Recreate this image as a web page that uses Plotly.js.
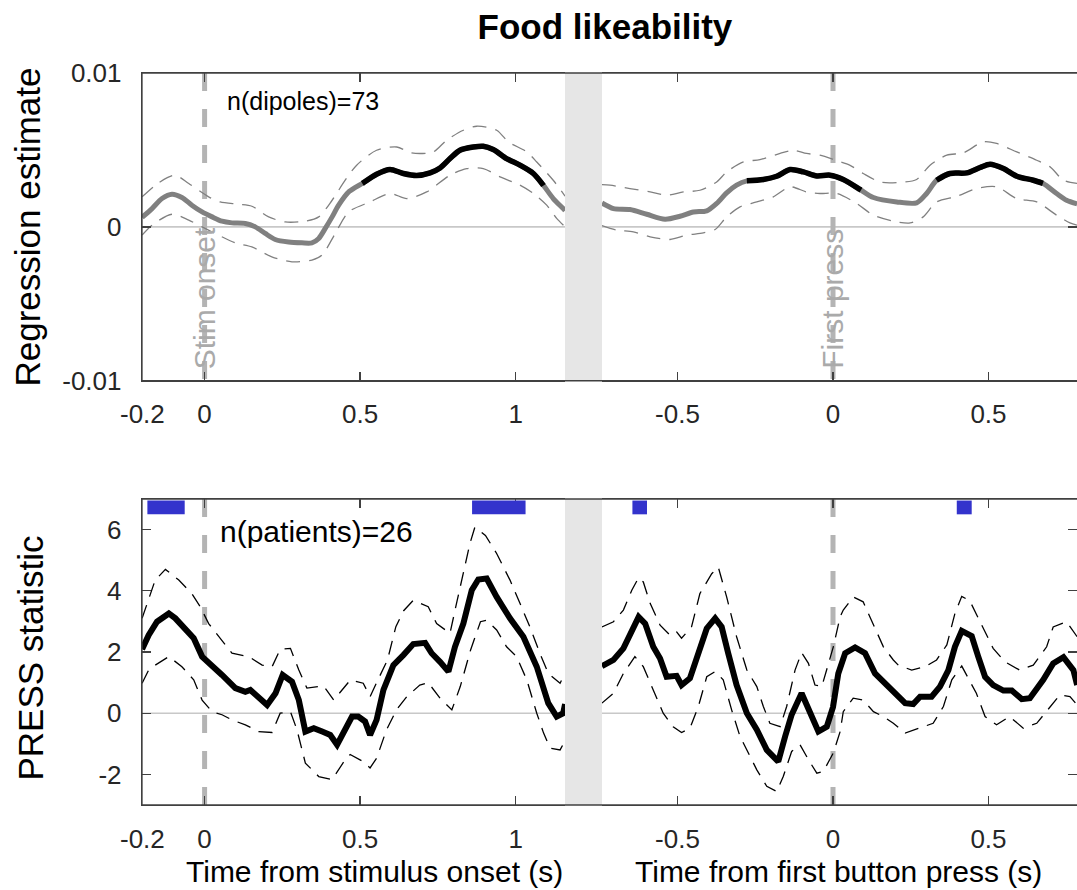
<!DOCTYPE html>
<html><head><meta charset="utf-8">
<script src="https://cdn.plot.ly/plotly-3.0.1.min.js"></script>
<style>html,body{margin:0;padding:0;background:#fff;} #chart{width:1077px;height:890px;}</style>
</head><body><div id="chart"></div>
<script>
// ---------- DATA ----------
// Tick labels
const stimTickVals = [-0.2, 0, 0.5, 1];
const stimTickText = ['-0.2', '0', '0.5', '1'];
const respTickVals = [-0.5, 0, 0.5];
const respTickText = ['-0.5', '0', '0.5'];
const regTickVals = [-0.01, 0, 0.01];
const regTickText = ['-0.01', '0', '0.01'];
const pressTickVals = [-2, 0, 2, 4, 6];
const pressTickText = ['-2', '0', '2', '4', '6'];

// Regression estimate, stimulus-locked (s)
const regStimT = [-0.201,-0.169,-0.137,-0.105,-0.073,-0.041,-0.008,0.024,0.056,0.088,0.131,0.163,0.195,0.227,0.270,0.313,0.345,0.367,0.388,0.410,0.431,0.465,0.510,0.553,0.596,0.639,0.682,0.725,0.757,0.789,0.821,0.864,0.896,0.928,0.971,1.014,1.057,1.089,1.121,1.153,1.159];
const regStimMean = [0.62e-3,1.19e-3,1.84e-3,2.12e-3,1.91e-3,1.41e-3,0.97e-3,0.65e-3,0.37e-3,0.26e-3,0.22e-3,0.0,-0.43e-3,-0.82e-3,-0.99e-3,-1.04e-3,-1.04e-3,-0.75e-3,-0.10e-3,0.65e-3,1.41e-3,2.30e-3,2.86e-3,3.42e-3,3.73e-3,3.47e-3,3.34e-3,3.51e-3,3.83e-3,4.44e-3,4.98e-3,5.19e-3,5.24e-3,5.03e-3,4.44e-3,4.01e-3,3.47e-3,2.71e-3,1.84e-3,1.19e-3,1.05e-3];
const regStimUpT = [-0.201,-0.158,-0.120,-0.094,-0.051,0.013,0.050,0.110,0.152,0.206,0.259,0.324,0.367,0.410,0.452,0.489,0.553,0.618,0.665,0.735,0.778,0.832,0.875,0.939,0.977,1.036,1.068,1.121,1.159];
const regStimUp = [1.95e-3,2.71e-3,3.20e-3,3.36e-3,2.82e-3,1.95e-3,1.62e-3,1.47e-3,1.34e-3,0.65e-3,0.32e-3,0.37e-3,0.65e-3,1.73e-3,3.03e-3,4.01e-3,4.98e-3,5.19e-3,4.81e-3,4.87e-3,5.63e-3,6.28e-3,6.54e-3,6.28e-3,5.52e-3,4.87e-3,4.22e-3,3.03e-3,2.00e-3];
const regStimLoT = [-0.201,-0.169,-0.105,-0.051,-0.008,0.034,0.099,0.152,0.216,0.281,0.345,0.377,0.420,0.463,0.532,0.596,0.650,0.714,0.789,0.843,0.896,0.950,1.014,1.057,1.100,1.132,1.159];
const regStimLo = [-0.54e-3,0.11e-3,0.82e-3,0.44e-3,0.0,-0.43e-3,-1.04e-3,-1.30e-3,-1.95e-3,-2.27e-3,-2.16e-3,-1.84e-3,-0.43e-3,0.97e-3,1.62e-3,2.17e-3,1.84e-3,2.27e-3,3.36e-3,3.79e-3,3.79e-3,3.25e-3,2.71e-3,2.17e-3,1.41e-3,0.55e-3,0.0];
const regSigStimStart = [0.507];
const regSigStimEnd = [1.090];

// Regression estimate, response-locked (s)
const regRespT = [-0.743,-0.706,-0.653,-0.599,-0.540,-0.492,-0.449,-0.406,-0.374,-0.342,-0.310,-0.277,-0.224,-0.181,-0.138,-0.095,-0.052,-0.010,0.033,0.087,0.130,0.205,0.269,0.301,0.333,0.376,0.430,0.473,0.505,0.548,0.591,0.644,0.676,0.719,0.751,0.785];
const regRespMean = [1.55e-3,1.19e-3,1.13e-3,0.82e-3,0.50e-3,0.69e-3,0.97e-3,1.04e-3,1.52e-3,2.21e-3,2.71e-3,2.99e-3,3.08e-3,3.29e-3,3.73e-3,3.57e-3,3.31e-3,3.36e-3,3.08e-3,2.43e-3,1.91e-3,1.62e-3,1.56e-3,2.17e-3,3.03e-3,3.47e-3,3.51e-3,3.86e-3,4.07e-3,3.79e-3,3.29e-3,3.03e-3,2.82e-3,2.17e-3,1.73e-3,1.50e-3];
const regRespUpT = [-0.743,-0.717,-0.653,-0.588,-0.535,-0.481,-0.428,-0.374,-0.342,-0.288,-0.235,-0.170,-0.128,-0.085,-0.042,0.012,0.055,0.097,0.151,0.205,0.269,0.312,0.366,0.419,0.483,0.526,0.591,0.655,0.698,0.741,0.785];
const regRespUp = [2.75e-3,2.71e-3,2.49e-3,2.27e-3,2.06e-3,2.27e-3,2.38e-3,2.92e-3,3.57e-3,4.22e-3,4.37e-3,4.77e-3,4.98e-3,4.77e-3,4.66e-3,4.30e-3,4.00e-3,3.47e-3,2.92e-3,2.88e-3,3.08e-3,4.01e-3,4.66e-3,4.81e-3,5.52e-3,5.42e-3,4.87e-3,4.33e-3,3.90e-3,3.03e-3,2.82e-3];
const regRespLoT = [-0.743,-0.696,-0.642,-0.588,-0.524,-0.470,-0.417,-0.379,-0.342,-0.299,-0.245,-0.192,-0.138,-0.085,-0.042,0.012,0.076,0.130,0.194,0.248,0.290,0.333,0.398,0.462,0.526,0.591,0.655,0.719,0.762,0.785];
const regRespLo = [0.08e-3,-0.21e-3,-0.32e-3,-0.65e-3,-0.82e-3,-0.54e-3,-0.39e-3,-0.17e-3,0.65e-3,1.30e-3,1.62e-3,1.95e-3,2.60e-3,2.27e-3,2.17e-3,2.17e-3,1.52e-3,0.76e-3,0.37e-3,0.26e-3,0.65e-3,1.62e-3,1.99e-3,2.49e-3,2.60e-3,1.84e-3,1.62e-3,0.76e-3,0.26e-3,0.11e-3];
const regSigRespStart = [-0.277, 0.333];
const regSigRespEnd = [0.090, 0.675];

// PRESS statistic, stimulus-locked
const pressStimT = [-0.201,-0.180,-0.153,-0.115,-0.094,-0.062,-0.035,-0.008,0.024,0.056,0.099,0.131,0.147,0.174,0.201,0.228,0.251,0.281,0.303,0.324,0.351,0.378,0.404,0.426,0.452,0.474,0.494,0.516,0.532,0.553,0.575,0.607,0.639,0.671,0.709,0.730,0.757,0.784,0.805,0.832,0.859,0.880,0.907,0.939,0.982,1.025,1.068,1.105,1.132,1.153,1.159];
const pressStimMean = [2.09,2.55,2.99,3.26,3.10,2.77,2.45,1.85,1.52,1.25,0.82,0.70,0.76,0.54,0.27,0.65,1.25,1.03,0.43,-0.60,-0.49,-0.60,-0.71,-1.03,-0.54,-0.11,-0.11,-0.27,-0.71,-0.22,0.76,1.57,1.90,2.26,2.30,1.96,1.68,1.36,2.17,2.93,4.02,4.37,4.40,3.80,3.10,2.50,1.52,0.33,-0.11,0.00,0.30];
const pressStimUpT = [-0.201,-0.180,-0.159,-0.126,-0.083,-0.041,-0.014,0.013,0.045,0.088,0.142,0.185,0.217,0.243,0.276,0.303,0.329,0.383,0.415,0.442,0.469,0.510,0.532,0.553,0.588,0.615,0.640,0.671,0.719,0.746,0.789,0.810,0.832,0.853,0.869,0.903,0.939,0.982,1.014,1.046,1.078,1.105,1.143,1.159];
const pressStimUp = [3.10,3.75,4.35,4.70,4.35,3.91,3.48,2.93,2.50,1.96,1.85,1.57,1.52,2.09,2.12,1.41,0.82,0.89,0.43,0.76,1.09,0.98,0.54,1.00,1.74,2.83,3.35,3.69,3.48,2.93,2.61,3.59,4.56,5.54,6.08,5.81,5.22,4.35,3.59,2.82,1.96,1.30,0.98,1.30];
const pressStimLoT = [-0.201,-0.180,-0.159,-0.115,-0.073,-0.035,-0.008,0.024,0.056,0.088,0.131,0.174,0.217,0.243,0.276,0.297,0.324,0.367,0.410,0.452,0.468,0.510,0.532,0.553,0.585,0.617,0.650,0.692,0.719,0.757,0.795,0.822,0.855,0.887,0.907,0.939,0.971,1.003,1.036,1.068,1.090,1.111,1.143,1.159];
const pressStimLo = [0.98,1.41,1.57,1.85,1.52,1.09,0.43,0.05,-0.05,-0.22,-0.38,-0.60,-0.63,0.00,0.05,-0.54,-1.63,-2.07,-2.17,-1.52,-1.35,-1.58,-1.79,-1.47,-0.54,0.11,0.54,0.92,1.00,0.49,0.11,0.87,2.06,2.99,3.04,2.72,2.17,1.85,1.09,0.00,-0.65,-1.14,-1.20,-0.90];
const pressSigStimStart = [-0.184, 0.860];
const pressSigStimEnd = [-0.064, 1.032];

// PRESS statistic, response-locked
const pressRespT = [-0.743,-0.706,-0.674,-0.647,-0.625,-0.604,-0.578,-0.556,-0.535,-0.503,-0.487,-0.460,-0.438,-0.406,-0.379,-0.358,-0.337,-0.310,-0.277,-0.245,-0.213,-0.176,-0.154,-0.133,-0.101,-0.074,-0.047,-0.020,0.000,0.017,0.039,0.071,0.103,0.135,0.167,0.205,0.232,0.258,0.280,0.317,0.344,0.371,0.392,0.414,0.446,0.467,0.489,0.515,0.548,0.575,0.607,0.633,0.676,0.708,0.741,0.773,0.785];
const pressRespMean = [1.54,1.74,2.12,2.66,3.15,2.93,2.17,1.79,1.19,1.22,0.92,1.14,1.85,2.77,3.10,2.82,1.96,0.92,0.00,-0.54,-1.20,-1.58,-0.76,-0.05,0.65,0.00,-0.60,-0.44,0.20,1.30,1.96,2.15,1.96,1.30,0.98,0.60,0.33,0.30,0.54,0.54,0.87,1.41,2.17,2.69,2.52,1.85,1.19,0.92,0.74,0.74,0.46,0.49,1.09,1.63,1.83,1.41,0.92];
const pressRespUpT = [-0.743,-0.706,-0.674,-0.647,-0.625,-0.610,-0.588,-0.556,-0.524,-0.503,-0.487,-0.455,-0.428,-0.390,-0.369,-0.342,-0.310,-0.277,-0.245,-0.224,-0.203,-0.170,-0.149,-0.122,-0.101,-0.079,-0.058,-0.036,0.001,0.023,0.033,0.065,0.097,0.130,0.162,0.194,0.210,0.253,0.296,0.333,0.366,0.392,0.414,0.440,0.473,0.515,0.553,0.600,0.644,0.687,0.708,0.751,0.785];
const pressRespUp = [2.82,2.99,3.37,4.02,4.43,4.29,3.59,2.88,2.55,2.66,2.45,2.82,3.91,4.56,4.78,3.80,2.50,1.41,0.87,0.22,-0.33,-0.44,0.22,1.41,1.98,1.63,0.92,0.87,2.17,3.15,3.37,3.80,3.64,2.88,2.17,1.74,1.57,1.41,1.52,1.74,2.23,3.26,3.82,3.67,2.99,2.12,1.68,1.41,1.57,2.17,2.82,2.99,2.50];
const pressRespLoT = [-0.743,-0.706,-0.674,-0.637,-0.610,-0.578,-0.546,-0.514,-0.487,-0.460,-0.433,-0.406,-0.379,-0.353,-0.326,-0.299,-0.272,-0.245,-0.213,-0.181,-0.160,-0.133,-0.106,-0.079,-0.052,-0.031,0.001,0.023,0.033,0.065,0.097,0.130,0.162,0.194,0.232,0.274,0.322,0.355,0.382,0.414,0.461,0.489,0.526,0.568,0.612,0.655,0.698,0.730,0.762,0.785];
const pressRespLo = [0.33,0.65,1.30,1.85,1.52,0.76,0.00,-0.44,-0.63,-0.49,0.22,1.19,1.36,1.09,0.11,-0.76,-1.30,-1.85,-2.39,-2.56,-2.07,-1.25,-1.03,-1.52,-1.96,-1.90,-1.30,-0.60,0.05,0.49,0.43,0.05,-0.11,-0.33,-0.65,-0.49,-0.33,0.22,1.09,1.54,0.65,-0.11,-0.38,-0.11,-0.49,-0.33,0.22,0.60,0.54,0.27];
const pressSigRespStart = [-0.645, 0.398];
const pressSigRespEnd = [-0.598, 0.446];

// ---------- STYLE / LAYOUT ----------
const FONT = '"Liberation Sans", Arial, Helvetica, sans-serif';
const GRAY = '#808080';
const AXC = '#404040';
const CI_DASH = '14px,9px';
const MARK_DASH = '18px,18px';
const MARK_COLOR = '#b4b4b4';

// plot area geometry (paper fractions)
const X1_DOM = [0, 0.4524];
const X2_DOM = [0.49198, 1];
const TOP_DOM = [0.5796, 1];
const BOT_DOM = [0, 0.418];
const STIM_RANGE = [-0.2013, 1.1588];
const RESP_RANGE = [-0.7428, 0.7846];

function interp(t, v, x) {
  for (let i = 0; i < t.length - 1; i++) {
    if (x >= t[i] && x <= t[i + 1]) {
      const f = (x - t[i]) / (t[i + 1] - t[i]);
      return v[i] + f * (v[i + 1] - v[i]);
    }
  }
  return x < t[0] ? v[0] : v[v.length - 1];
}
function sigPath(t, v, starts, ends) {
  const xs = [], ys = [];
  starts.forEach((a, k) => {
    const b = ends[k];
    xs.push(a); ys.push(interp(t, v, a));
    t.forEach((ti, i) => { if (ti > a && ti < b) { xs.push(ti); ys.push(v[i]); } });
    xs.push(b); ys.push(interp(t, v, b));
    xs.push(null); ys.push(null);
  });
  return {xs, ys};
}
function ln(x, y, xa, ya, color, width, dash, shape) {
  return {type: 'scatter', mode: 'lines', x: x, y: y, xaxis: xa, yaxis: ya,
    line: {color: color, width: width, dash: dash || 'solid', shape: shape || 'linear', smoothing: 0.8},
    connectgaps: false, hoverinfo: 'skip', showlegend: false};
}

const sigA = sigPath(regStimT, regStimMean, regSigStimStart, regSigStimEnd);
const sigB = sigPath(regRespT, regRespMean, regSigRespStart, regSigRespEnd);

const traces = [
  ln(regStimUpT, regStimUp, 'x', 'y', GRAY, 1.3, CI_DASH, 'spline'),
  ln(regStimLoT, regStimLo, 'x', 'y', GRAY, 1.3, CI_DASH, 'spline'),
  ln(regStimT, regStimMean, 'x', 'y', GRAY, 5, null, 'spline'),
  ln(sigA.xs, sigA.ys, 'x', 'y', '#000', 5.5, null, 'spline'),
  ln(regRespUpT, regRespUp, 'x2', 'y', GRAY, 1.3, CI_DASH, 'spline'),
  ln(regRespLoT, regRespLo, 'x2', 'y', GRAY, 1.3, CI_DASH, 'spline'),
  ln(regRespT, regRespMean, 'x2', 'y', GRAY, 5, null, 'spline'),
  ln(sigB.xs, sigB.ys, 'x2', 'y', '#000', 5.5, null, 'spline'),
  ln(pressStimUpT, pressStimUp, 'x3', 'y2', '#000', 1.3, CI_DASH),
  ln(pressStimLoT, pressStimLo, 'x3', 'y2', '#000', 1.3, CI_DASH),
  ln(pressStimT, pressStimMean, 'x3', 'y2', '#000', 6),
  ln(pressRespUpT, pressRespUp, 'x4', 'y2', '#000', 1.3, CI_DASH),
  ln(pressRespLoT, pressRespLo, 'x4', 'y2', '#000', 1.3, CI_DASH),
  ln(pressRespT, pressRespMean, 'x4', 'y2', '#000', 6),
  {type: 'scatter', mode: 'lines', x: [0], y: [null], xaxis: 'x2', yaxis: 'y3', hoverinfo: 'skip', showlegend: false},
  {type: 'scatter', mode: 'lines', x: [0], y: [null], xaxis: 'x4', yaxis: 'y4', hoverinfo: 'skip', showlegend: false}
];

const axBase = {
  ticks: 'inside', ticklen: 9, tickwidth: 1.3, tickcolor: AXC,
  showline: true, linecolor: AXC, linewidth: 1.3,
  showgrid: false, zeroline: false, fixedrange: true,
  tickfont: {family: FONT, size: 26, color: '#262626'},
  tickmode: 'array'
};
const xBase = Object.assign({}, axBase, {mirror: 'ticks', ticklabelstandoff: 10});
const yBase = Object.assign({}, axBase, {ticklabelstandoff: 14});

// shapes
const shapes = [];
// zero lines
shapes.push({type: 'line', layer: 'below', xref: 'paper', x0: 0, x1: 1, yref: 'y', y0: 0, y1: 0, line: {color: '#c8c8c8', width: 1.6}});
shapes.push({type: 'line', layer: 'below', xref: 'paper', x0: 0, x1: 1, yref: 'y2', y0: 0, y1: 0, line: {color: '#c8c8c8', width: 1.6}});
// event markers (t = 0)
[['x', TOP_DOM], ['x2', TOP_DOM], ['x3', BOT_DOM], ['x4', BOT_DOM]].forEach(([xa, dom]) => {
  shapes.push({type: 'line', layer: 'below', xref: xa, x0: 0, x1: 0, yref: 'paper', y0: dom[1], y1: dom[0],
    line: {color: MARK_COLOR, width: 5, dash: MARK_DASH}});
});
// gap between the two time windows
[TOP_DOM, BOT_DOM].forEach(dom => {
  shapes.push({type: 'rect', layer: 'above', xref: 'paper', x0: X1_DOM[1], x1: X2_DOM[0], yref: 'paper', y0: dom[0], y1: dom[1],
    fillcolor: '#e6e6e6', line: {width: 0}});
});
// significance bars
pressSigStimStart.forEach((a, k) => shapes.push({type: 'rect', layer: 'above', xref: 'x3', yref: 'y2', x0: a, x1: pressSigStimEnd[k], y0: 6.5, y1: 6.95, fillcolor: '#3333cc', line: {width: 0}}));
pressSigRespStart.forEach((a, k) => shapes.push({type: 'rect', layer: 'above', xref: 'x4', yref: 'y2', x0: a, x1: pressSigRespEnd[k], y0: 6.5, y1: 6.95, fillcolor: '#3333cc', line: {width: 0}}));
// panel boxes
[TOP_DOM, BOT_DOM].forEach(dom => {
  shapes.push({type: 'rect', layer: 'above', xref: 'paper', x0: 0, x1: 1.05, yref: 'paper', y0: dom[0], y1: dom[1],
    fillcolor: 'rgba(0,0,0,0)', line: {color: AXC, width: 1.3}});
});

const annotations = [
  {text: 'Regression estimate', xref: 'paper', yref: 'paper', x: 0, y: 0.7896, xshift: -114.5, xanchor: 'center', yanchor: 'middle',
   textangle: -90, showarrow: false, font: {family: FONT, size: 35, color: '#000'}},
  {text: 'PRESS statistic', xref: 'paper', yref: 'paper', x: 0, y: 0.2008, xshift: -111.5, xanchor: 'center', yanchor: 'middle',
   textangle: -90, showarrow: false, font: {family: FONT, size: 35, color: '#000'}},
  {text: 'Time from stimulus onset (s)', xref: 'paper', yref: 'paper', x: 0.2487, y: -0.0915, xanchor: 'center', yanchor: 'middle',
   showarrow: false, font: {family: FONT, size: 30, color: '#000'}},
  {text: 'Time from first button press (s)', xref: 'paper', yref: 'paper', x: 0.7444, y: -0.0915, xanchor: 'center', yanchor: 'middle',
   showarrow: false, font: {family: FONT, size: 30, color: '#000'}},
  {text: 'n(dipoles)=73', xref: 'paper', yref: 'paper', x: 0.0888, y: 0.9617, xanchor: 'left', yanchor: 'middle',
   showarrow: false, font: {family: FONT, size: 25, color: '#000'}},
  {text: 'n(patients)=26', xref: 'paper', yref: 'paper', x: 0.0813, y: 0.3743, xanchor: 'left', yanchor: 'middle',
   showarrow: false, font: {family: FONT, size: 30, color: '#000'}},
  {text: 'Stim onset', xref: 'x', yref: 'paper', x: 0, y: TOP_DOM[0], yshift: 9, xanchor: 'center', yanchor: 'bottom',
   textangle: -90, showarrow: false, font: {family: FONT, size: 30, color: '#aaaaaa'}},
  {text: 'First press', xref: 'x2', yref: 'paper', x: 0, y: TOP_DOM[0], yshift: 10, xanchor: 'center', yanchor: 'bottom',
   textangle: -90, showarrow: false, font: {family: FONT, size: 30, color: '#aaaaaa'}}
];

const layout = {
  width: 1077, height: 890,
  margin: {l: 142, r: 0, t: 73, b: 85, pad: 0},
  paper_bgcolor: '#fff', plot_bgcolor: 'rgba(0,0,0,0)',
  showlegend: false,
  font: {family: FONT, color: '#000'},
  title: {text: '<b>Food likeability</b>', font: {family: FONT, size: 35, color: '#000'},
          xref: 'container', x: 0.5617, xanchor: 'center', yref: 'container', y: 0.9697, yanchor: 'middle'},
  xaxis: Object.assign({}, xBase, {domain: X1_DOM, range: STIM_RANGE, anchor: 'y', tickvals: stimTickVals, ticktext: stimTickText}),
  xaxis2: Object.assign({}, xBase, {domain: X2_DOM, range: RESP_RANGE, anchor: 'y', tickvals: respTickVals, ticktext: respTickText}),
  xaxis3: Object.assign({}, xBase, {domain: X1_DOM, range: STIM_RANGE, anchor: 'y2', tickvals: stimTickVals, ticktext: stimTickText}),
  xaxis4: Object.assign({}, xBase, {domain: X2_DOM, range: RESP_RANGE, anchor: 'y2', tickvals: respTickVals, ticktext: respTickText}),
  yaxis: Object.assign({}, yBase, {domain: TOP_DOM, range: [-0.01, 0.01], anchor: 'x', tickvals: regTickVals, ticktext: regTickText}),
  yaxis2: Object.assign({}, yBase, {domain: BOT_DOM, range: [-3, 7], anchor: 'x3', tickvals: pressTickVals, ticktext: pressTickText}),
  yaxis3: Object.assign({}, yBase, {overlaying: 'y', anchor: 'x2', side: 'right', range: [-0.01, 0.01], tickvals: regTickVals, showticklabels: false, showline: false}),
  yaxis4: Object.assign({}, yBase, {overlaying: 'y2', anchor: 'x4', side: 'right', range: [-3, 7], tickvals: pressTickVals, showticklabels: false, showline: false}),
  shapes: shapes,
  annotations: annotations
};

Plotly.newPlot('chart', traces, layout, {staticPlot: true, displayModeBar: false});
</script></body></html>
